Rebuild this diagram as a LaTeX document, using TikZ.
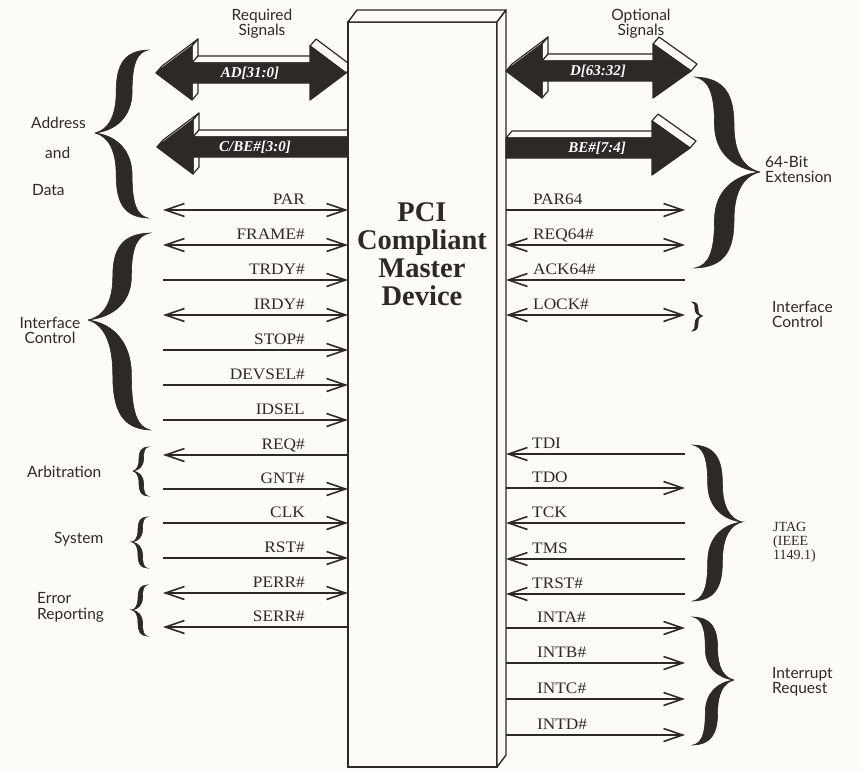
\documentclass[tikz,border=0pt]{standalone}
\usepackage{fontspec}
\setmainfont{Liberation Serif}
\newfontfamily\sigfont[FakeStretch=1.08]{Liberation Serif}
\newfontfamily\grpfont{Lato}
\usetikzlibrary{arrows.meta,calc}
\definecolor{ink}{HTML}{2E2926}
\definecolor{paper}{HTML}{FCFBF7}
\newcommand\bface[2]{\draw[bevel] (#1) -- (#2) -- ([shift={(6,-7)}]#2) -- ([shift={(6,-7)}]#1) -- cycle;}
\newcommand\halfshape{(0,0) .. controls (0.25,0.04) and (0.4,0.2) .. (0.4,0.5) .. controls (0.4,0.82) and (0.55,0.99) .. (1,1) .. controls (0.8,0.97) and (0.7,0.85) .. (0.7,0.5) .. controls (0.7,0.2) and (0.4,0.03) .. (0,0) -- cycle}
\newcommand\brc[5]{%
  \pgfmathsetmacro\bw{#3-#1}\pgfmathsetmacro\bht{#4-#2}\pgfmathsetmacro\bhb{#5-#2}%
  \begin{scope}[shift={(#1,#2)},xscale=\bw,yscale=\bht]\filldraw[ink,line width=0.6pt] \halfshape;\end{scope}
  \begin{scope}[shift={(#1,#2)},xscale=\bw,yscale=\bhb]\filldraw[ink,line width=0.6pt] \halfshape;\end{scope}}
\begin{document}
\begin{tikzpicture}[x=1pt,y=-1pt,
  bevel/.style={fill=paper,draw=ink,line width=1.2pt,line join=round},
  busarrow/.style={fill=ink,draw=ink,line width=1.2pt,line join=round},
  devbox/.style={draw=ink,fill=paper,line width=1.4pt,minimum width=149pt,minimum height=745pt,inner sep=0pt,outer sep=0pt},
  boxface/.style={draw=ink,fill=paper,line width=1.4pt,line join=round},
  wire/.style={draw=ink,line width=1.6pt},
  >={Straight Barb[length=19pt,width=13pt]},
  sig/.style={font=\sigfont\fontsize{16}{18}\selectfont,text=ink,inner sep=0pt},
  grp/.style={font=\grpfont\fontsize{15.5}{16}\selectfont,text=ink,inner sep=0pt},
  jt/.style={font=\fontsize{14}{14}\selectfont,text=ink,inner sep=0pt},
  bus/.style={font=\bfseries\itshape\fontsize{15}{16}\selectfont,text=white,inner sep=0pt},
  title/.style={font=\bfseries\fontsize{28.5}{28}\selectfont,text=ink,align=center,inner sep=0pt}]
\fill[paper] (0,0) rectangle (861,771);
\useasboundingbox (0,0) rectangle (861,771);

% ---- left bus arrows
\bface{156,73}{192,46}\bface{192,46}{192,63}\bface{192,63}{310,63}\bface{310,46}{346,73}\bface{192,83}{192,100}
\filldraw[busarrow] (156,73) -- (192,46) -- (192,63) -- (310,63) -- (310,46) -- (346,73) -- (310,100) -- (310,83) -- (192,83) -- (192,100) -- cycle;
\node[bus] (AD) at (250,73) {AD[31:0]};
\bface{157,147}{193,120}\bface{193,120}{193,137}\bface{193,137}{347,137}\bface{193,157}{193,174}
\filldraw[busarrow] (157,147) -- (193,120) -- (193,137) -- (347,137) -- (347,157) -- (193,157) -- (193,174) -- cycle;
\node[bus] (CBE) at (255,147) {C/BE\#[3:0]};

% ---- device box
\node[devbox] (dev) at (422.5,394.5) {};
\draw[boxface] (dev.north west) -- ++(9,-12) -- ([shift={(9,-12)}]dev.north east) -- (dev.north east) -- cycle;
\draw[boxface] (dev.north east) -- ++(9,-12) -- ([shift={(9,-12)}]dev.south east) -- (dev.south east) -- cycle;
\coordinate (sideR) at ([xshift=9pt]dev.east);
\node[title] (ttl) at (422,254) {PCI\\Compliant\\Master\\Device};

% ---- right bus arrows
\bface{506,71}{542,44}\bface{542,44}{542,61}\bface{542,61}{653,61}\bface{653,44}{691,71}\bface{542,81}{542,98}
\filldraw[busarrow] (506,71) -- (542,44) -- (542,61) -- (653,61) -- (653,44) -- (691,71) -- (653,98) -- (653,81) -- (542,81) -- (542,98) -- cycle;
\node[bus] (D) at (598,71) {D[63:32]};
\bface{506,138}{652,138}\bface{652,121}{690,148}
\filldraw[busarrow] (506,138) -- (652,138) -- (652,121) -- (690,148) -- (652,175) -- (652,158) -- (506,158) -- cycle;
\node[bus] (BE) at (597,148) {BE\#[7:4]};

% ---- top labels
\node[grp,anchor=base] (req1) at (262,20) {Required};
\node[grp,anchor=base] (req2) at (262,35) {Signals};
\node[grp,anchor=base] (opt1) at (641,20) {Optional};
\node[grp,anchor=base] (opt2) at (641,35) {Signals};

% ---- left signals
\coordinate (aPAR) at (163,210);   \node[sig,anchor=base east] (lPAR) at (305,204) {PAR};
\coordinate (aFRAME) at (163,245); \node[sig,anchor=base east] (lFRAME) at (305,239) {FRAME\#};
\coordinate (aTRDY) at (163,280);  \node[sig,anchor=base east] (lTRDY) at (305,274) {TRDY\#};
\coordinate (aIRDY) at (163,315);  \node[sig,anchor=base east] (lIRDY) at (305,309) {IRDY\#};
\coordinate (aSTOP) at (163,350);  \node[sig,anchor=base east] (lSTOP) at (305,344) {STOP\#};
\coordinate (aDEVSEL) at (163,385);\node[sig,anchor=base east] (lDEVSEL) at (305,379) {DEVSEL\#};
\coordinate (aIDSEL) at (163,420); \node[sig,anchor=base east] (lIDSEL) at (305,414) {IDSEL};
\coordinate (aREQ) at (163,455);   \node[sig,anchor=base east] (lREQ) at (305,449) {REQ\#};
\coordinate (aGNT) at (163,489);   \node[sig,anchor=base east] (lGNT) at (305,483) {GNT\#};
\coordinate (aCLK) at (163,523);   \node[sig,anchor=base east] (lCLK) at (305,517) {CLK};
\coordinate (aRST) at (163,558);   \node[sig,anchor=base east] (lRST) at (305,552) {RST\#};
\coordinate (aPERR) at (163,593);  \node[sig,anchor=base east] (lPERR) at (305,587) {PERR\#};
\coordinate (aSERR) at (163,627);  \node[sig,anchor=base east] (lSERR) at (305,621) {SERR\#};
\draw[wire,<->] (aPAR) -- (aPAR -| dev.west);
\draw[wire,<->] (aFRAME) -- (aFRAME -| dev.west);
\draw[wire,->] (aTRDY) -- (aTRDY -| dev.west);
\draw[wire,<->] (aIRDY) -- (aIRDY -| dev.west);
\draw[wire,->] (aSTOP) -- (aSTOP -| dev.west);
\draw[wire,->] (aDEVSEL) -- (aDEVSEL -| dev.west);
\draw[wire,->] (aIDSEL) -- (aIDSEL -| dev.west);
\draw[wire,<-] (aREQ) -- (aREQ -| dev.west);
\draw[wire,->] (aGNT) -- (aGNT -| dev.west);
\draw[wire,->] (aCLK) -- (aCLK -| dev.west);
\draw[wire,->] (aRST) -- (aRST -| dev.west);
\draw[wire,<->] (aPERR) -- (aPERR -| dev.west);
\draw[wire,<-] (aSERR) -- (aSERR -| dev.west);

% ---- right signals
\coordinate (aPARs) at (685,210);  \node[sig,anchor=base west] (lPARs) at (533,204) {PAR64};
\coordinate (aREQs) at (685,245);  \node[sig,anchor=base west] (lREQs) at (533,239) {REQ64\#};
\coordinate (aACKs) at (685,280);  \node[sig,anchor=base west] (lACKs) at (533,274) {ACK64\#};
\coordinate (aLOCK) at (685,315);  \node[sig,anchor=base west] (lLOCK) at (533,309) {LOCK\#};
\coordinate (aTDI) at (685,454);   \node[sig,anchor=base west] (lTDI) at (532,448) {TDI};
\coordinate (aTDO) at (685,488);   \node[sig,anchor=base west] (lTDO) at (532,482) {TDO};
\coordinate (aTCK) at (685,523);   \node[sig,anchor=base west] (lTCK) at (532,517) {TCK};
\coordinate (aTMS) at (685,559);   \node[sig,anchor=base west] (lTMS) at (532,553) {TMS};
\coordinate (aTRST) at (685,594);  \node[sig,anchor=base west] (lTRST) at (532,588) {TRST\#};
\coordinate (aINTA) at (685,628);  \node[sig,anchor=base west] (lINTA) at (537,622) {INTA\#};
\coordinate (aINTB) at (685,663);  \node[sig,anchor=base west] (lINTB) at (537,657) {INTB\#};
\coordinate (aINTC) at (685,699);  \node[sig,anchor=base west] (lINTC) at (537,693) {INTC\#};
\coordinate (aINTD) at (685,735);  \node[sig,anchor=base west] (lINTD) at (537,729) {INTD\#};
\draw[wire,->] (aPARs -| sideR) -- (aPARs);
\draw[wire,<->] (aREQs -| sideR) -- (aREQs);
\draw[wire,<-] (aACKs -| sideR) -- (aACKs);
\draw[wire,<->] (aLOCK -| sideR) -- (aLOCK);
\draw[wire,<-] (aTDI -| sideR) -- (aTDI);
\draw[wire,->] (aTDO -| sideR) -- (aTDO);
\draw[wire,<-] (aTCK -| sideR) -- (aTCK);
\draw[wire,<-] (aTMS -| sideR) -- (aTMS);
\draw[wire,<-] (aTRST -| sideR) -- (aTRST);
\draw[wire,->] (aINTA -| sideR) -- (aINTA);
\draw[wire,->] (aINTB -| sideR) -- (aINTB);
\draw[wire,->] (aINTC -| sideR) -- (aINTC);
\draw[wire,->] (aINTD -| sideR) -- (aINTD);

% ---- braces
\brc{95}{133}{148}{50}{218}
\brc{88}{320}{150}{233}{430}
\brc{133}{471}{148}{447}{496}
\brc{132}{542}{147}{517}{568}
\brc{132}{610}{147}{585}{636}
\brc{760}{172}{695}{77}{268}
\brc{702}{316}{692}{302}{331}
\brc{742}{522}{693}{445}{601}
\brc{734}{680}{693}{617}{745}

% ---- group labels
\node[grp,anchor=base west] (gAddr) at (31,128) {Address};
\node[grp,anchor=base west] (gAnd) at (45,158) {and};
\node[grp,anchor=base west] (gData) at (32,195) {Data};
\node[grp,anchor=base] (gIC1) at (50,328) {Interface};
\node[grp,anchor=base] (gIC2) at (50,343) {Control};
\node[grp,anchor=base west] (gArb) at (27,477) {Arbitration};
\node[grp,anchor=base west] (gSys) at (54,543) {System};
\node[grp,anchor=base west] (gErr1) at (37,603) {Error};
\node[grp,anchor=base west] (gErr2) at (37,619) {Reporting};
\node[grp,anchor=base west] (g64a) at (765,167) {64-Bit};
\node[grp,anchor=base west] (g64b) at (765,182) {Extension};
\node[grp,anchor=base west] (gRIC1) at (772,312) {Interface};
\node[grp,anchor=base west] (gRIC2) at (772,327) {Control};
\node[jt,anchor=base west] (gJ1) at (773,531) {JTAG};
\node[jt,anchor=base west] (gJ2) at (773,545) {(IEEE};
\node[jt,anchor=base west] (gJ3) at (773,559) {1149.1)};
\node[grp,anchor=base west] (gInt1) at (772,678) {Interrupt};
\node[grp,anchor=base west] (gInt2) at (772,693) {Request};
\end{tikzpicture}
\end{document}
